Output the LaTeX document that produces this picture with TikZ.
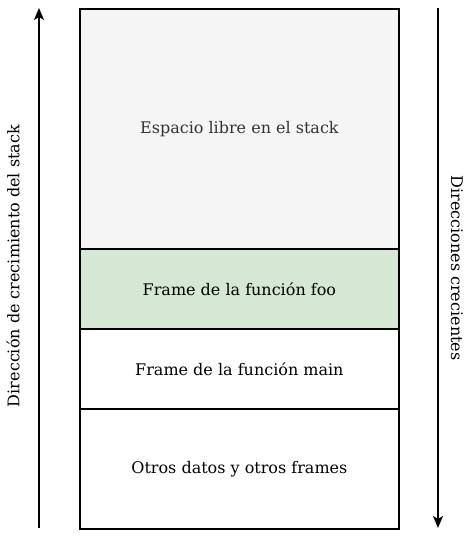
\documentclass[tikz,border=0pt]{standalone}
\usepackage{fontspec}
\setmainfont{DejaVu Serif}
\usetikzlibrary{arrows.meta}
\begin{document}
\begin{tikzpicture}[x=1pt,y=-1pt,
  cell/.style={draw=black,line width=1.8pt,minimum width=319pt,inner sep=0pt,font=\fontsize{16}{19}\selectfont},
  dirarrow/.style={line width=1.6pt,-{Stealth[length=12pt,width=10pt,inset=3pt]}},
  lbl/.style={font=\fontsize{16}{19}\selectfont,inner sep=0pt}]
\useasboundingbox (0,0) rectangle (469,537);
\node[cell,fill=black!4,minimum height=240pt,text=black!80,anchor=north west] (free) at (79,8) {Espacio libre en el stack};
\node[cell,fill={rgb,255:red,213;green,232;blue,212},minimum height=80pt,anchor=north west] (foo) at (79,248) {Frame de la función foo};
\node[cell,fill=white,minimum height=80pt,anchor=north west] (main) at (79,328) {Frame de la función main};
\node[cell,fill=white,minimum height=120pt,anchor=north west] (other) at (79,408) {Otros datos y otros frames};
\coordinate (lb) at (39,528);
\coordinate (lt) at (39,8);
\coordinate (rt) at (438,8);
\coordinate (rb) at (438,528);
\draw[dirarrow] (lb) -- (lt);
\draw[dirarrow] (rt) -- (rb);
\node[lbl,rotate=90] (ltext) at (13,266) {Dirección de crecimiento del stack};
\node[lbl,rotate=-90] (rtext) at (457,268) {Direcciones crecientes};
\end{tikzpicture}
\end{document}
